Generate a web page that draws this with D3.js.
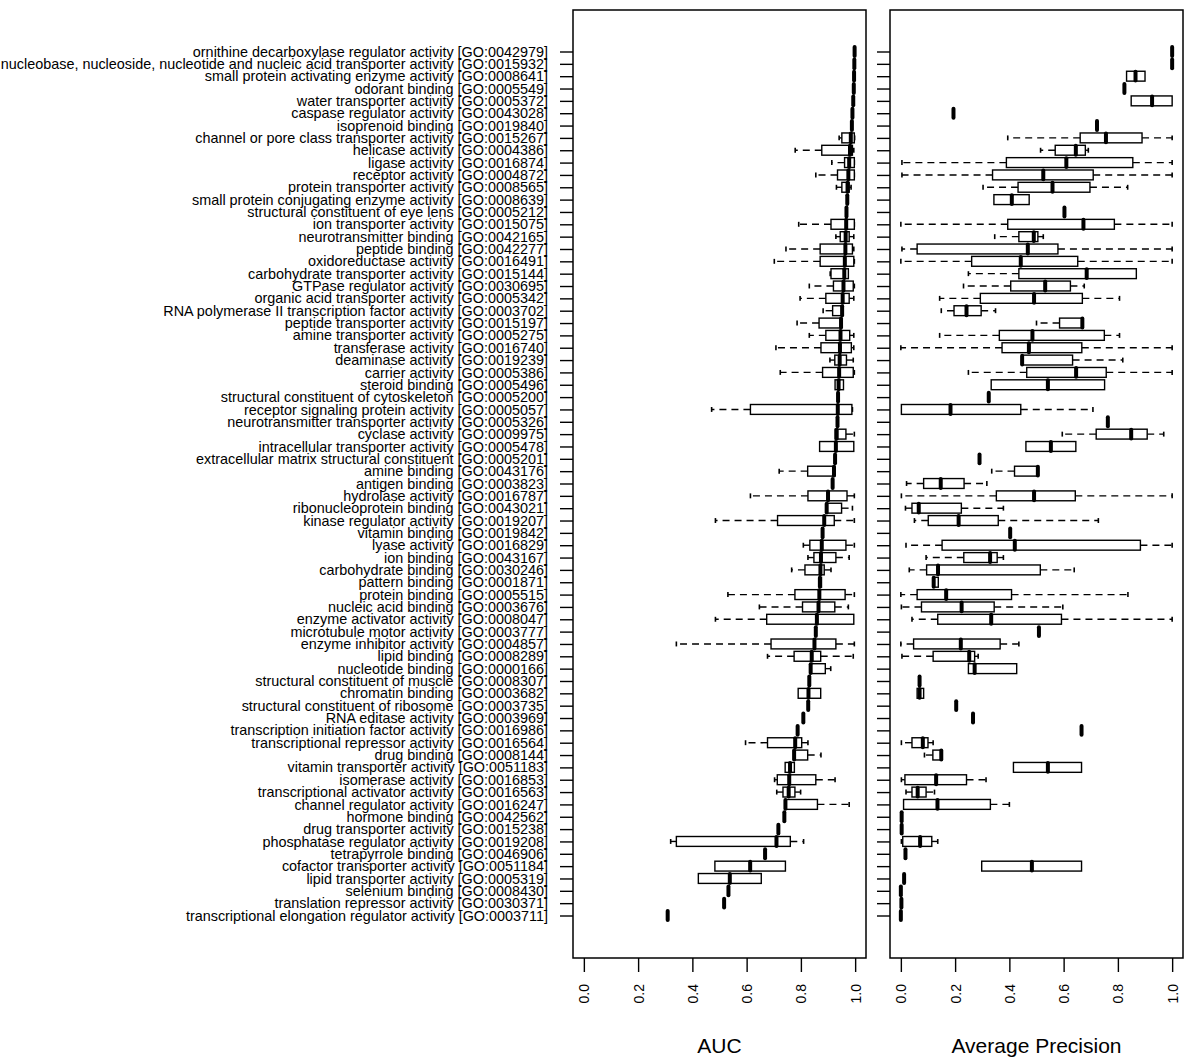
<!DOCTYPE html>
<html>
<head>
	<title>GO term boxplots</title>
	<script src="https://d3js.org/d3.v7.min.js"></script>
	<style>
	html, body {margin: 0; background: #fff; overflow: hidden}
	text {font-family: "Liberation Sans", Arial, sans-serif; fill: #000;}
	.frame {fill: none; stroke: #000; stroke-width: 1.5px;}
	.box {fill: #fff; stroke: #000; stroke-width: 1.4px;}
	.whisker {stroke: #000; stroke-width: 1.4px; stroke-dasharray: 7,5;}
	.staple {stroke: #000; stroke-width: 1.6px;}
	.median {stroke: #000; stroke-width: 4px; stroke-linecap: round;}
	</style>
</head>
<body>
<script>
	// GO molecular function categories, sorted by median AUC
	var categories = [
		"ornithine decarboxylase regulator activity [GO:0042979]",
		"nucleobase, nucleoside, nucleotide and nucleic acid transporter activity [GO:0015932]",
		"small protein activating enzyme activity [GO:0008641]",
		"odorant binding [GO:0005549]",
		"water transporter activity [GO:0005372]",
		"caspase regulator activity [GO:0043028]",
		"isoprenoid binding [GO:0019840]",
		"channel or pore class transporter activity [GO:0015267]",
		"helicase activity [GO:0004386]",
		"ligase activity [GO:0016874]",
		"receptor activity [GO:0004872]",
		"protein transporter activity [GO:0008565]",
		"small protein conjugating enzyme activity [GO:0008639]",
		"structural constituent of eye lens [GO:0005212]",
		"ion transporter activity [GO:0015075]",
		"neurotransmitter binding [GO:0042165]",
		"peptide binding [GO:0042277]",
		"oxidoreductase activity [GO:0016491]",
		"carbohydrate transporter activity [GO:0015144]",
		"GTPase regulator activity [GO:0030695]",
		"organic acid transporter activity [GO:0005342]",
		"RNA polymerase II transcription factor activity [GO:0003702]",
		"peptide transporter activity [GO:0015197]",
		"amine transporter activity [GO:0005275]",
		"transferase activity [GO:0016740]",
		"deaminase activity [GO:0019239]",
		"carrier activity [GO:0005386]",
		"steroid binding [GO:0005496]",
		"structural constituent of cytoskeleton [GO:0005200]",
		"receptor signaling protein activity [GO:0005057]",
		"neurotransmitter transporter activity [GO:0005326]",
		"cyclase activity [GO:0009975]",
		"intracellular transporter activity [GO:0005478]",
		"extracellular matrix structural constituent [GO:0005201]",
		"amine binding [GO:0043176]",
		"antigen binding [GO:0003823]",
		"hydrolase activity [GO:0016787]",
		"ribonucleoprotein binding [GO:0043021]",
		"kinase regulator activity [GO:0019207]",
		"vitamin binding [GO:0019842]",
		"lyase activity [GO:0016829]",
		"ion binding [GO:0043167]",
		"carbohydrate binding [GO:0030246]",
		"pattern binding [GO:0001871]",
		"protein binding [GO:0005515]",
		"nucleic acid binding [GO:0003676]",
		"enzyme activator activity [GO:0008047]",
		"microtubule motor activity [GO:0003777]",
		"enzyme inhibitor activity [GO:0004857]",
		"lipid binding [GO:0008289]",
		"nucleotide binding [GO:0000166]",
		"structural constituent of muscle [GO:0008307]",
		"chromatin binding [GO:0003682]",
		"structural constituent of ribosome [GO:0003735]",
		"RNA editase activity [GO:0003969]",
		"transcription initiation factor activity [GO:0016986]",
		"transcriptional repressor activity [GO:0016564]",
		"drug binding [GO:0008144]",
		"vitamin transporter activity [GO:0051183]",
		"isomerase activity [GO:0016853]",
		"transcriptional activator activity [GO:0016563]",
		"channel regulator activity [GO:0016247]",
		"hormone binding [GO:0042562]",
		"drug transporter activity [GO:0015238]",
		"phosphatase regulator activity [GO:0019208]",
		"tetrapyrrole binding [GO:0046906]",
		"cofactor transporter activity [GO:0051184]",
		"lipid transporter activity [GO:0005319]",
		"selenium binding [GO:0008430]",
		"translation repressor activity [GO:0030371]",
		"transcriptional elongation regulator activity [GO:0003711]"
	];

	var N = null;

	// AUC: lower whisker, q1, median, q3, upper whisker (null = not drawn)
	var aucLo = [N,N,N,N,N,N,N,0.941,0.779,0.914,0.855,0.931,N,N,0.792,0.929,0.745,0.702,0.908,0.831,0.797,0.882,0.786,0.831,0.708,0.907,0.724,N,N,0.471,N,N,N,N,0.720,N,0.614,N,0.485,N,0.809,0.826,0.766,N,0.531,0.647,0.485,N,0.341,0.677,N,N,N,N,N,N,0.596,N,N,0.703,0.711,N,N,N,0.320,N,N,N,N,N,N];
	var aucQ1 = [N,N,N,N,N,N,N,0.951,0.877,0.961,0.935,0.951,N,N,0.911,0.945,0.871,0.871,0.911,0.920,0.892,0.917,0.867,0.892,0.874,0.925,0.880,0.926,N,0.614,N,0.926,0.869,N,0.825,N,0.826,0.895,0.714,N,0.833,0.848,0.815,0.868,0.778,0.806,0.674,N,0.690,0.775,0.836,N,0.790,N,N,N,0.677,0.775,0.742,0.713,0.734,0.743,N,N,0.341,N,0.483,0.422,N,N,N];
	var aucMed = [0.998,0.997,0.996,0.995,0.993,0.990,0.988,0.984,0.981,0.978,0.975,0.972,0.971,0.968,0.967,0.965,0.964,0.962,0.960,0.957,0.954,0.952,0.948,0.946,0.944,0.943,0.941,0.939,0.937,0.936,0.935,0.932,0.929,0.926,0.922,0.917,0.900,0.895,0.886,0.880,0.877,0.874,0.872,0.870,0.868,0.865,0.859,0.855,0.850,0.840,0.836,0.831,0.828,0.827,0.809,0.788,0.779,0.775,0.760,0.757,0.755,0.743,0.739,0.717,0.710,0.668,0.613,0.538,0.533,0.517,0.309];
	var aucQ3 = [N,N,N,N,N,N,N,0.997,0.990,0.997,0.997,0.978,N,N,0.997,0.978,0.990,0.995,0.975,0.993,0.978,0.956,0.948,0.980,0.986,0.968,0.993,0.957,N,0.988,N,0.966,0.995,N,0.925,N,0.970,0.950,0.923,N,0.966,0.929,0.886,0.876,0.963,0.925,0.995,N,0.929,0.873,0.890,N,0.873,N,N,N,0.803,0.825,0.776,0.855,0.778,0.861,N,N,0.761,N,0.743,0.654,N,N,N];
	var aucHi = [N,N,N,N,N,N,N,0.998,0.995,0.997,0.997,0.985,N,N,0.997,0.995,0.995,0.997,N,0.997,0.995,N,N,0.995,0.995,0.993,0.997,N,N,0.990,N,0.997,N,N,N,N,0.997,0.990,0.997,N,0.997,0.978,0.911,N,0.997,0.975,N,N,0.997,0.993,0.910,N,N,N,N,N,0.826,0.874,N,0.926,0.799,0.978,N,N,0.810,N,N,N,N,N,N];

	// Average precision: same layout
	var apLo = [N,N,N,N,N,N,N,0.394,0.515,0.004,0.004,0.303,N,N,0.0,0.346,0.004,0.0,0.249,0.231,0.143,0.149,0.500,0.143,0.0,N,0.249,N,N,N,N,0.595,N,N,0.335,0.021,0.002,0.017,0.050,N,0.019,0.093,0.031,N,0.0,0.002,0.041,N,0.0,0.004,N,N,N,N,N,N,0.002,0.087,N,0.002,0.019,N,N,N,0.002,N,N,N,N,N,N];
	var apQ1 = [N,N,0.832,N,0.849,N,N,0.661,0.569,0.389,0.338,0.432,0.343,N,0.394,0.435,0.060,0.261,0.435,0.405,0.293,0.196,0.585,0.363,0.373,0.447,0.464,0.333,N,0.002,N,0.720,0.461,N,0.419,0.084,0.352,0.041,0.101,N,0.152,0.232,0.095,0.121,0.060,0.076,0.136,N,0.047,0.119,0.249,N,0.060,N,N,N,0.041,0.118,0.415,0.015,0.041,0.010,N,N,0.007,N,0.298,N,N,N,N];
	var apMed = [1.0,1.0,0.865,0.824,0.926,0.194,0.723,0.756,0.645,0.610,0.525,0.559,0.409,0.603,0.673,0.490,0.468,0.442,0.685,0.532,0.491,0.242,0.669,0.485,0.472,0.447,0.646,0.542,0.324,0.183,0.763,0.849,0.553,0.290,0.505,0.147,0.491,0.066,0.213,0.403,0.420,0.329,0.137,0.121,0.167,0.224,0.333,0.509,0.221,0.252,0.272,0.069,0.069,0.204,0.266,0.666,0.081,0.149,0.542,0.130,0.062,0.135,0.003,0.003,0.071,0.017,0.483,0.012,0.0,0.002,0.0];
	var apQ3 = [N,N,0.900,N,1.0,N,N,0.889,0.680,0.855,0.709,0.697,0.473,N,0.787,0.505,0.579,0.652,0.868,0.625,0.669,0.296,0.669,0.750,0.667,0.633,0.757,0.751,N,0.442,N,0.908,0.645,N,0.505,0.233,0.643,0.223,0.359,N,0.883,0.355,0.514,0.138,0.408,0.344,0.592,N,0.366,0.272,0.427,N,0.084,N,N,N,0.100,0.152,0.666,0.242,0.093,0.330,N,N,0.114,N,0.666,N,N,N,N];
	var apHi = [N,N,N,N,N,N,N,1.0,0.691,1.0,1.0,0.836,N,N,1.0,0.525,1.0,1.0,N,0.676,0.806,0.349,N,0.806,1.0,0.818,1.0,N,N,0.708,N,0.969,N,N,N,0.317,1.0,0.378,0.728,N,1.0,0.378,0.639,N,0.837,0.597,1.0,N,0.435,0.285,N,N,N,N,N,N,0.119,N,N,0.314,0.124,0.400,N,N,0.136,N,N,N,N,N,N];

	var xTicks = [0, 0.2, 0.4, 0.6, 0.8, 1.0];

	var width = 1200, height = 1064;
	var plotTop = 10, plotBottom = 958;

	var svg = d3.select("body").append("svg")
		.attr("width", width)
		.attr("height", height);

	// rows: R-style spacing, first row near top
	var y = d3.scalePoint()
		.domain(categories)
		.range([51.5, 915.5]);
	var bh = y.step() * 0.8;

	function drawPanel(left, right, title, lo, q1, med, q3, hi, showLabels) {
		// 4% padding on each side like R's default xlim extension
		var pad = (right - left) * 0.04 / 1.08;
		var x = d3.scaleLinear().domain([0, 1]).range([left + pad, right - pad]);

		var g = svg.append("g");

		var yAxis = d3.axisLeft(y)
			.tickSize(13)
			.tickPadding(12)
			.tickSizeOuter(0);
		if (!showLabels) yAxis.tickFormat("");

		g.append("g")
			.attr("transform", "translate(" + left + ",0)")
			.call(yAxis)
			.call(function(a) {
				a.select(".domain").remove();
				a.selectAll("line").attr("stroke", "#000").attr("stroke-width", 1.4);
				a.selectAll("text").attr("font-size", "14.4px").attr("fill", "#000");
			});

		var xAxis = d3.axisBottom(x)
			.tickValues(xTicks)
			.tickFormat(d3.format(".1f"))
			.tickSize(14)
			.tickSizeOuter(0);

		g.append("g")
			.attr("transform", "translate(0," + plotBottom + ")")
			.call(xAxis)
			.call(function(a) {
				a.select(".domain").remove();
				a.selectAll("line").attr("stroke", "#000").attr("stroke-width", 1.4);
				a.selectAll("text")
					.attr("font-size", "14px")
					.attr("fill", "#000")
					.attr("text-anchor", "end")
					.attr("transform", "translate(0,26) rotate(-90)")
					.attr("x", 0)
					.attr("y", 0)
					.attr("dy", "0.35em");
			});

		var rows = g.append("g")
			.selectAll("g")
			.data(categories)
			.enter().append("g")
			.attr("transform", function(d) { return "translate(0," + y(d) + ")"; });

		rows.each(function(d, i) {
			var r = d3.select(this);
			var boxL = q1[i] !== null ? q1[i] : med[i];
			var boxR = q3[i] !== null ? q3[i] : med[i];

			if (lo[i] !== null) {
				if (lo[i] < boxL) {
					r.append("line").attr("class", "whisker")
						.attr("x1", x(boxL)).attr("x2", x(lo[i]))
						.attr("y1", 0).attr("y2", 0);
				}
				r.append("line").attr("class", "staple")
					.attr("x1", x(lo[i])).attr("x2", x(lo[i]))
					.attr("y1", -bh / 4).attr("y2", bh / 4);
			}
			if (hi[i] !== null) {
				if (hi[i] > boxR) {
					r.append("line").attr("class", "whisker")
						.attr("x1", x(boxR)).attr("x2", x(hi[i]))
						.attr("y1", 0).attr("y2", 0);
				}
				r.append("line").attr("class", "staple")
					.attr("x1", x(hi[i])).attr("x2", x(hi[i]))
					.attr("y1", -bh / 4).attr("y2", bh / 4);
			}
			if (q1[i] !== null) {
				r.append("rect").attr("class", "box")
					.attr("x", x(q1[i]))
					.attr("y", -bh / 2)
					.attr("width", Math.max(0, x(q3[i]) - x(q1[i])))
					.attr("height", bh);
			}
			r.append("line").attr("class", "median")
				.attr("x1", x(med[i])).attr("x2", x(med[i]))
				.attr("y1", -bh / 2 + 0.5).attr("y2", bh / 2 - 0.5);
		});

		g.append("rect")
			.attr("class", "frame")
			.attr("x", left)
			.attr("y", plotTop)
			.attr("width", right - left)
			.attr("height", plotBottom - plotTop);

		g.append("text")
			.attr("x", (left + right) / 2)
			.attr("y", 1053)
			.attr("text-anchor", "middle")
			.attr("font-size", "21px")
			.text(title);
	}

	drawPanel(573, 866, "AUC", aucLo, aucQ1, aucMed, aucQ3, aucHi, true);
	drawPanel(890, 1183, "Average Precision", apLo, apQ1, apMed, apQ3, apHi, false);
</script>
</body>
</html>
